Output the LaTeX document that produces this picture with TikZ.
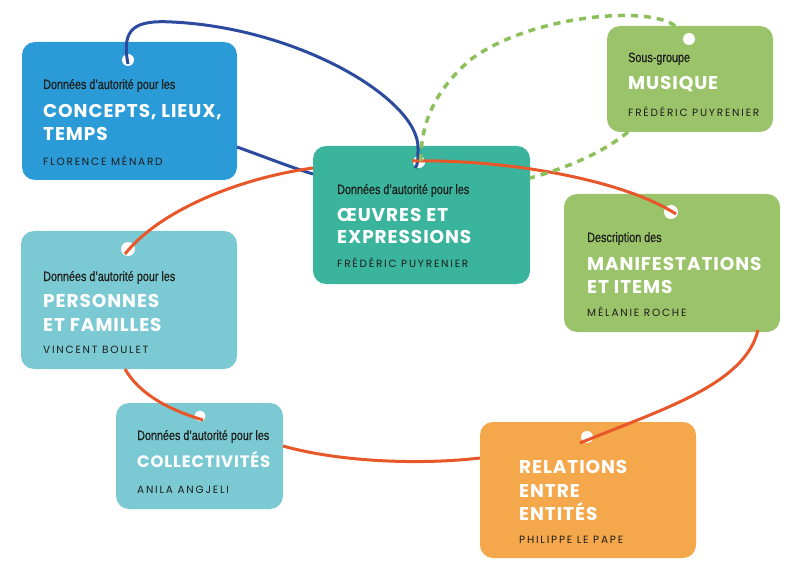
\documentclass[tikz,border=0pt]{standalone}
\usepackage{fontspec}
\setmainfont{Poppins}
\newfontfamily\condf[FakeStretch=0.8,FakeBold=0.5]{Liberation Sans}
\newfontfamily\bigf[LetterSpace=5]{Poppins}
\newfontfamily\namef[LetterSpace=17]{Poppins}
\definecolor{cblue}{HTML}{2A9BD7}
\definecolor{cteal}{HTML}{3AB49C}
\definecolor{cgreen}{HTML}{9BC46A}
\definecolor{clteal}{HTML}{7BCAD3}
\definecolor{corange}{HTML}{F4A74B}
\definecolor{lblue}{HTML}{2C4B9E}
\definecolor{lorange}{HTML}{E8572A}
\definecolor{lgreen}{HTML}{8DC05A}
\definecolor{ink}{HTML}{1D1D1B}
\tikzset{
  tagbox/.style={rounded corners=13pt, inner sep=0pt, draw=none},
  tagHole/.style={circle, fill=white, inner sep=0pt},
  smalltxt/.style={anchor=base west, inner sep=0pt, text=ink, font=\fontsize{13.5}{15}\condf},
  bigtxt/.style={anchor=base west, inner sep=0pt, text=white, font=\fontsize{18.5}{21}\bigf\bfseries},
  nametxt/.style={anchor=base west, inner sep=0pt, text=ink, font=\fontsize{10.5}{12}\namef},
  oline/.style={draw=lorange, line width=3pt},
  bline/.style={draw=lblue, line width=3pt},
  gline/.style={draw=lgreen, line width=3.5pt, dash pattern=on 7pt off 6pt},
}
\begin{document}
\begin{tikzpicture}[x=1pt, y=-1pt]
\useasboundingbox (0,0) rectangle (800,569);
% boxes
\node[tagbox, fill=cblue, minimum width=215pt, minimum height=138pt] (concepts) at (129.5,111) {};
\node[tagbox, fill=cteal, minimum width=217pt, minimum height=138pt] (oeuvres) at (421.5,215) {};
\node[tagbox, fill=cgreen, minimum width=166pt, minimum height=106pt] (musique) at (690,79) {};
\node[tagbox, fill=cgreen, minimum width=216pt, minimum height=138pt] (manif) at (672,263) {};
\node[tagbox, fill=clteal, minimum width=216pt, minimum height=138pt] (personnes) at (129,300) {};
\node[tagbox, fill=clteal, minimum width=167pt, minimum height=106pt] (collect) at (199.5,456) {};
\node[tagbox, fill=corange, minimum width=216pt, minimum height=136pt] (relations) at (588,490) {};
% holes
\node[tagHole, minimum size=12pt] (hconcepts) at (128,60) {};
\node[tagHole, minimum size=12pt] (hoeuvres) at (419,162) {};
\node[tagHole, minimum size=12pt] (hmusique) at (689,39) {};
\node[tagHole, minimum size=14pt] (hmanif) at (671,212) {};
\node[tagHole, minimum size=14pt] (hpersonnes) at (128,249) {};
\node[tagHole, minimum size=11pt] (hcollect) at (200,416) {};
\node[tagHole, minimum size=12pt] (hrelations) at (587,437) {};
% connector end points
\coordinate (cA) at (128,64);
\coordinate (cB) at (415,168);
\coordinate (cC) at (237,147);
\coordinate (cD) at (313,174);
\coordinate (oA) at (125,254);
\coordinate (oB) at (313,168);
\coordinate (oC) at (412,161);
\coordinate (oD) at (676,214);
\coordinate (oE) at (758,330);
\coordinate (oF) at (580,443);
\coordinate (oG) at (480,458);
\coordinate (oH) at (283,446);
\coordinate (oI) at (125,369);
\coordinate (oJ) at (203,420);
\coordinate (gA) at (675,26);
\coordinate (gB) at (421,164);
\coordinate (gC) at (628,132);
\coordinate (gD) at (530,178);
% blue
\draw[bline] (cA) .. controls (121,28) and (135,20) .. (172,22) .. controls (300,28) and (419,100) .. (418,148) .. controls (418,160) and (418,165) .. (cB);
\draw[bline] (cC) .. controls (265,157) and (290,167) .. (cD);
% orange
\draw[oline] (oA) .. controls (160,210) and (240,178) .. (oB);
\draw[oline] (oC) .. controls (500,159) and (620,178) .. (oD);
\draw[oline] (oE) .. controls (745,385) and (660,410) .. (oF);
\draw[oline] (oG) .. controls (420,465) and (340,462) .. (oH);
\draw[oline] (oI) .. controls (140,395) and (170,410) .. (oJ);
% green dashed
\draw[gline] (gA) .. controls (650,5) and (530,15) .. (470,60) .. controls (430,95) and (420,130) .. (gB);
\draw[gline] (gC) .. controls (600,155) and (560,170) .. (gD);
% texts
\node[smalltxt] (t1a) at (43,89) {Données d’autorité pour les};
\node[bigtxt] (t1b) at (43,118) {CONCEPTS, LIEUX,};
\node[bigtxt] (t1c) at (43,141) {TEMPS};
\node[nametxt] (t1d) at (43,166) {FLORENCE MÉNARD};
\node[smalltxt] (t2a) at (337,194) {Données d’autorité pour les};
\node[bigtxt] (t2b) at (337,222) {ŒUVRES ET};
\node[bigtxt] (t2c) at (337,244) {EXPRESSIONS};
\node[nametxt] (t2d) at (337,268) {FRÉDÉRIC PUYRENIER};
\node[smalltxt] (t3a) at (628,62) {Sous-groupe};
\node[bigtxt] (t3b) at (628,90) {MUSIQUE};
\node[nametxt] (t3d) at (628,117) {FRÉDÉRIC PUYRENIER};
\node[smalltxt] (t4a) at (587,242) {Description des};
\node[bigtxt] (t4b) at (587,270) {MANIFESTATIONS};
\node[bigtxt] (t4c) at (587,293) {ET ITEMS};
\node[nametxt] (t4d) at (587,316) {MÉLANIE ROCHE};
\node[smalltxt] (t5a) at (43,281) {Données d’autorité pour les};
\node[bigtxt] (t5b) at (43,307) {PERSONNES};
\node[bigtxt] (t5c) at (43,331) {ET FAMILLES};
\node[nametxt] (t5d) at (43,353) {VINCENT BOULET};
\node[smalltxt] (t6a) at (137,440) {Données d’autorité pour les};
\node[bigtxt, font=\fontsize{16.5}{18}\bigf\bfseries] (t6b) at (137,467) {COLLECTIVITÉS};
\node[nametxt] (t6d) at (137,493) {ANILA ANGJELI};
\node[bigtxt] (t7a) at (519,473) {RELATIONS};
\node[bigtxt] (t7b) at (519,497) {ENTRE};
\node[bigtxt] (t7c) at (519,520) {ENTITÉS};
\node[nametxt] (t7d) at (519,543) {PHILIPPE LE PAPE};
\end{tikzpicture}
\end{document}
